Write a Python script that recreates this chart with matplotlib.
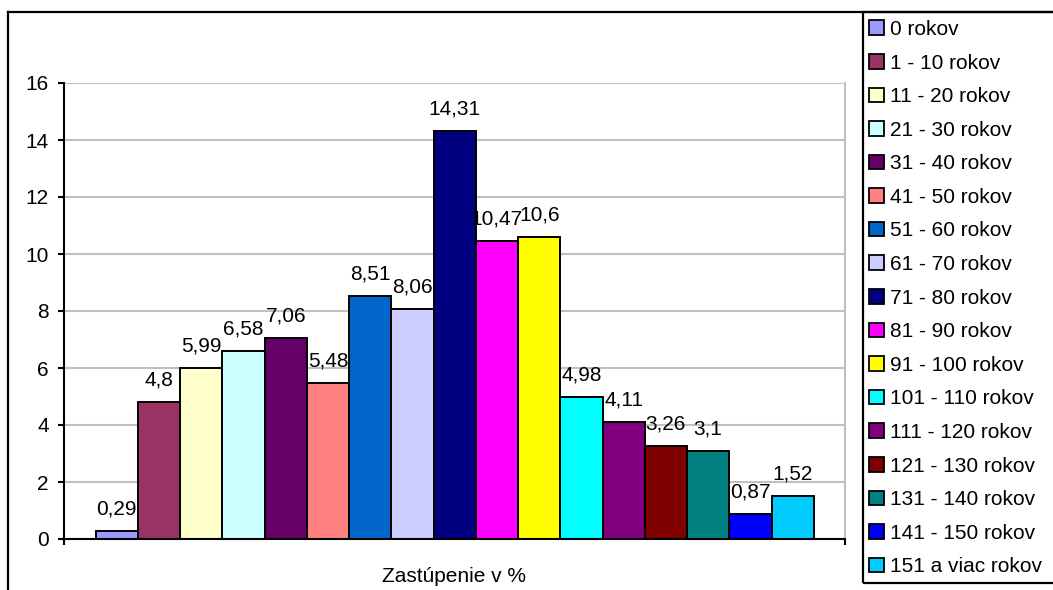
import matplotlib.pyplot as plt
import numpy as np
from matplotlib.patches import Patch, Rectangle
from matplotlib.lines import Line2D

plt.rcParams['font.family'] = ['Liberation Sans', 'DejaVu Sans']

labels = ['0 rokov', '1 - 10 rokov', '11 - 20 rokov', '21 - 30 rokov', '31 - 40 rokov',
          '41 - 50 rokov', '51 - 60 rokov', '61 - 70 rokov', '71 - 80 rokov', '81 - 90 rokov',
          '91 - 100 rokov', '101 - 110 rokov', '111 - 120 rokov', '121 - 130 rokov',
          '131 - 140 rokov', '141 - 150 rokov', '151 a viac rokov']
values = [0.29, 4.8, 5.99, 6.58, 7.06, 5.48, 8.51, 8.06, 14.31, 10.47, 10.6,
          4.98, 4.11, 3.26, 3.1, 0.87, 1.52]
colors = ['#9999FF', '#993366', '#FFFFCC', '#CCFFFF', '#660066', '#FF8080', '#0066CC',
          '#CCCCFF', '#000080', '#FF00FF', '#FFFF00', '#00FFFF', '#800080', '#800000',
          '#008080', '#0000FF', '#00CCFF']

W, H = 1053, 590
fs = 15
fig = plt.figure(figsize=(W / 100, H / 100), dpi=100)
ax = fig.add_axes([64 / W, 1 - 539 / H, (845 - 64) / W, (539 - 83) / H])

x = np.arange(len(values))
bars = ax.bar(x, values, width=1.0, color=colors, edgecolor='black', linewidth=1.4, zorder=3)
ax.bar_label(bars, labels=[f"{v:g}".replace('.', ',') for v in values],
             padding=9, fontsize=fs)

xmin, xmax = -1.25, 17.24
ax.set_xlim(xmin, xmax)
ax.set_ylim(0, 16)
ax.set_yticks(range(0, 17, 2))
ax.set_xticks([xmin, xmax])
ax.set_xticklabels([])
ax.tick_params(axis='both', direction='out', length=4.5, width=1.5, labelsize=fs, pad=6.5)
ax.yaxis.grid(True, color='#C0C0C0', linewidth=1.5, zorder=0)
ax.set_axisbelow(True)
ax.set_xlabel('Zastúpenie v %', fontsize=fs, labelpad=9)

for s in ['left', 'bottom']:
    ax.spines[s].set_linewidth(1.5)
    ax.spines[s].set_zorder(4)
ax.spines['right'].set_color('#C0C0C0')
ax.spines['right'].set_linewidth(1.5)
ax.spines['top'].set_visible(False)

# outer chart frame
fig.add_artist(Line2D([8 / W, 8 / W], [0, 1 - 12 / H], color='black', linewidth=1.6))
fig.add_artist(Line2D([8 / W, 1], [1 - 12 / H, 1 - 12 / H], color='black', linewidth=1.6))

# legend box
fig.add_artist(Rectangle((863 / W, 1 - 583 / H), (1070 - 863) / W, (583 - 12) / H,
                         transform=fig.transFigure, fill=False, edgecolor='black',
                         linewidth=1.6, clip_on=False))
handles = [Patch(facecolor=c, edgecolor='black', linewidth=1.3) for c in colors]
fig.legend(handles, labels, loc='upper left', bbox_to_anchor=(869 / W, 1 - 20 / H),
           frameon=False, fontsize=fs, handlelength=0.7, handleheight=0.7,
           handletextpad=0.3, labelspacing=0.7, borderpad=0, borderaxespad=0)

fig.savefig('out.png', dpi=100)
